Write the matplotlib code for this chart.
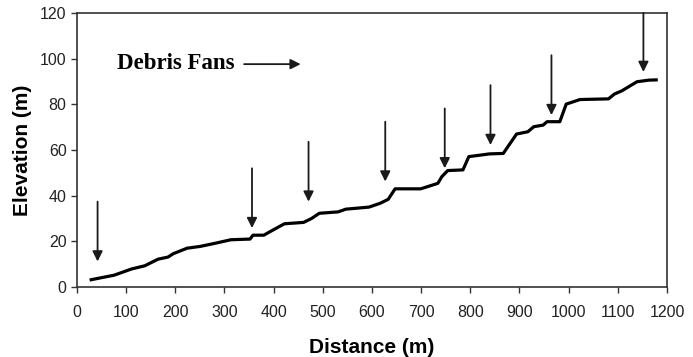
import numpy as np
import matplotlib.pyplot as plt

# Longitudinal profile (distance m, elevation m)
distance = [29, 76, 111, 138, 165, 185, 196, 224, 251, 282, 313, 352, 358, 380,
            399, 422, 461, 477, 493, 531, 547, 594, 617, 633, 647, 699, 734, 742,
            754, 785, 797, 839, 867, 894, 917, 929, 948, 956, 982, 995, 1023,
            1081, 1093, 1108, 1139, 1163, 1178]
elevation = [3.2, 5.2, 7.9, 9.3, 12.2, 13.1, 14.6, 17.0, 17.8, 19.2, 20.7, 21.0,
             22.7, 22.7, 25.0, 27.7, 28.3, 30.0, 32.3, 32.9, 34.1, 35.0, 36.7,
             38.4, 43.0, 43.0, 45.4, 48.3, 51.0, 51.3, 57.1, 58.3, 58.5, 67.0,
             68.0, 70.2, 70.9, 72.4, 72.4, 80.1, 82.1, 82.4, 84.5, 85.9, 89.9,
             90.6, 90.7]

# Debris fan arrows: x position, tail elevation, head elevation
fan_x = [42, 356, 471, 627, 748, 841, 965, 1152]
fan_top = [37.4, 52.0, 63.6, 72.4, 78.2, 88.4, 101.5, 120.0]
fan_tip = [11.2, 25.8, 37.4, 46.2, 52.0, 62.2, 75.3, 94.2]

xticks = np.arange(0, 1201, 100)
yticks = np.arange(0, 121, 20)

plt.rcParams['font.family'] = ['Liberation Sans', 'DejaVu Sans']

fig = plt.figure(figsize=(6.93, 3.57), dpi=100)
ax = fig.add_axes([0.111, 0.196, 0.8515, 0.7676])

ax.plot(distance, elevation, color='black', linewidth=2.3, solid_joinstyle='round')

arrow_style = dict(arrowstyle='-|>', color='#1a1a1a', lw=1.3,
                   mutation_scale=15, shrinkA=0, shrinkB=0)
for xf, top, tip in zip(fan_x, fan_top, fan_tip):
    ax.annotate('', xy=(xf, tip), xytext=(xf, top), arrowprops=arrow_style,
                annotation_clip=False)

# label with its own arrow
ax.text(81, 97.8, 'Debris Fans', family='Liberation Serif', fontweight='bold',
        fontsize=16.5, va='center', ha='left')
ax.annotate('', xy=(455, 97.6), xytext=(340, 97.6), arrowprops=arrow_style)

ax.set_xlim(0, 1200)
ax.set_ylim(0, 120)
ax.set_xticks(xticks)
ax.set_yticks(yticks)
ax.tick_params(direction='out', length=4, width=1, color='#333333',
               labelsize=11.5, labelcolor='#222222')
ax.tick_params(axis='x', pad=9)
for sp in ax.spines.values():
    sp.set_color('#333333')
    sp.set_linewidth(1.2)

ax.set_xlabel('Distance (m)', fontsize=15, fontweight='bold', labelpad=13)
ax.set_ylabel('Elevation (m)', fontsize=15, fontweight='bold', labelpad=6)

fig.savefig('out.png', dpi=100)
